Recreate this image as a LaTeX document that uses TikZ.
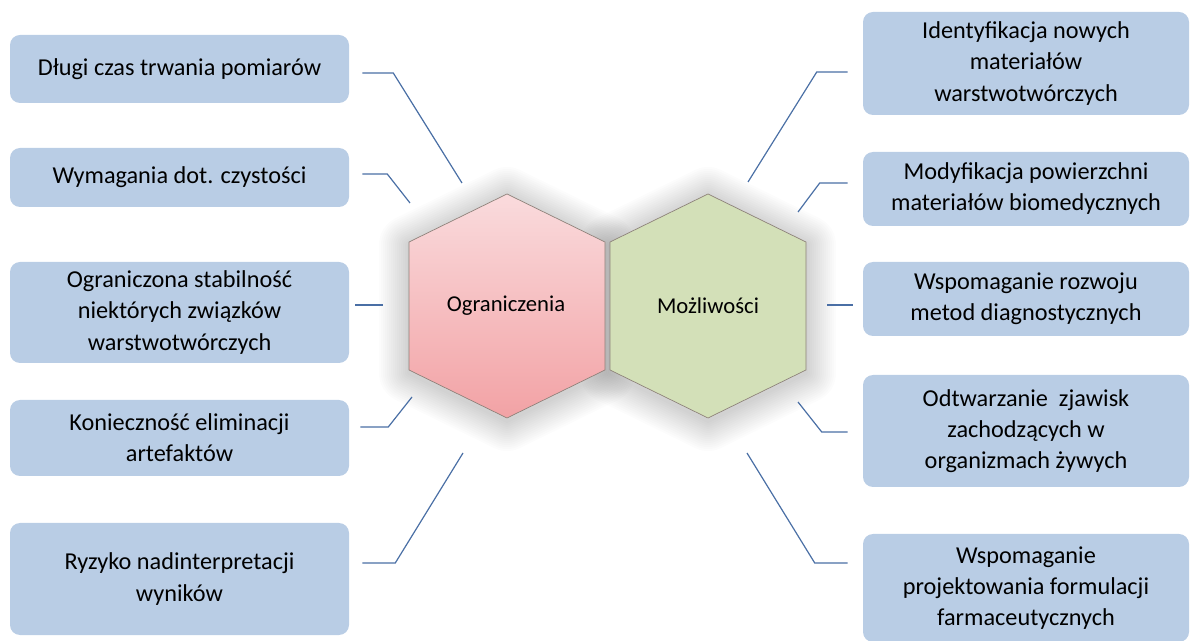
\documentclass[tikz,border=0pt]{standalone}
\usepackage{fontspec}
\setmainfont{Carlito}
\definecolor{boxblue}{HTML}{B9CDE5}
\definecolor{lineblue}{HTML}{4A6FA5}
\definecolor{pinktop}{HTML}{FADBDD}
\definecolor{pinkbot}{HTML}{F2A2A5}
\definecolor{sage}{HTML}{D3E0B8}
\definecolor{hexedge}{HTML}{8C8078}
\newcommand{\hexpath}{(0,-112) -- (98,-64) -- (98,64) -- (0,112) -- (-98,64) -- (-98,-64) -- cycle}

\begin{document}
\begin{tikzpicture}[x=0.75pt, y=-0.75pt,
  box/.style={fill=boxblue, rounded corners=7.5pt, align=center, inner sep=0pt,
    font=\fontsize{18.2}{23.3}\selectfont},
  lbox/.style={box, minimum width=339*0.75pt},
  rbox/.style={box, minimum width=326*0.75pt},
  link/.style={draw=lineblue, line width=0.9pt},
  hex/.style={draw=hexedge, line width=0.5pt},
  glow/.style={draw=black, opacity=0.012, line join=round},
  hexlabel/.style={font=\fontsize{17}{20}\selectfont},
  ]
\useasboundingbox (0,0) rectangle (1193,641);

% soft glow behind both hexagons
\foreach \w in {60,56,...,4} {
  \draw[glow, line width=\w*0.75pt, shift={(507,309)}] \hexpath;
  \draw[glow, line width=\w*0.75pt, shift={(708,309)}] \hexpath;
}
% hexagons
\path[hex, top color=pinktop, bottom color=pinkbot, shift={(507,306)}] \hexpath;
\path[hex, fill=sage, shift={(708,306)}] \hexpath;
\path (506,306) node[hexlabel](ogr){Ograniczenia};
\path (708,306) node[hexlabel](moz){Możliwości};

% left column
\path (179.5,69) node[lbox, minimum height=68*0.75pt](l1){Długi czas trwania pomiarów};
\path (179.5,177.5) node[lbox, minimum height=59*0.75pt](l2){Wymagania dot. czystości};
\path (179.5,312.5) node[lbox, minimum height=101*0.75pt](l3){Ograniczona stabilność\\niektórych związków\\warstwotwórczych};
\path (179.5,438) node[lbox, minimum height=76*0.75pt](l4){Konieczność eliminacji\\artefaktów};
\path (179.5,579) node[lbox, minimum height=112*0.75pt](l5){Ryzyko nadinterpretacji\\wyników};

% right column
\path (1026,63.5) node[rbox, minimum height=103*0.75pt](r1){Identyfikacja nowych\\materiałów\\warstwotwórczych};
\path (1026,189) node[rbox, minimum height=74*0.75pt](r2){Modyfikacja powierzchni\\materiałów biomedycznych};
\path (1026,299) node[rbox, minimum height=74*0.75pt](r3){Wspomaganie rozwoju\\metod diagnostycznych};
\path (1026,431) node[rbox, minimum height=112*0.75pt](r4){Odtwarzanie\ \ zjawisk\\zachodzących w\\organizmach żywych};
\path (1026,588) node[rbox, minimum height=108*0.75pt](r5){Wspomaganie\\projektowania formulacji\\farmaceutycznych};

% free ends near the hexagons
\coordinate (e1) at (462,183);
\coordinate (e2) at (410,203);
\coordinate (e4) at (412,397);
\coordinate (e5) at (463,453);
\coordinate (f1) at (748,182);
\coordinate (f2) at (798,212);
\coordinate (f4) at (798,402);
\coordinate (f5) at (747,453);

\draw[link] (l1.east) ++(13,4) -- ++(31,0) -- (e1);
\draw[link] (l2.east) ++(13,-3.5) -- ++(25,0) -- (e2);
\draw[link] (l3.east) ++(6,-7.5) -- ++(28,0);
\draw[link] (l4.east) ++(11,-11) -- ++(28,0) -- (e4);
\draw[link] (l5.east) ++(13,-16) -- ++(33,0) -- (e5);

\draw[link] (r1.west) ++(-15,8.5) -- ++(-31,0) -- (f1);
\draw[link] (r2.west) ++(-15,-6) -- ++(-28,0) -- (f2);
\draw[link] (r3.west) ++(-10,6) -- ++(-26,0);
\draw[link] (r4.west) ++(-15,1) -- ++(-26,0) -- (f4);
\draw[link] (r5.west) ++(-15,-25) -- ++(-33,0) -- (f5);

\end{tikzpicture}
\end{document}
